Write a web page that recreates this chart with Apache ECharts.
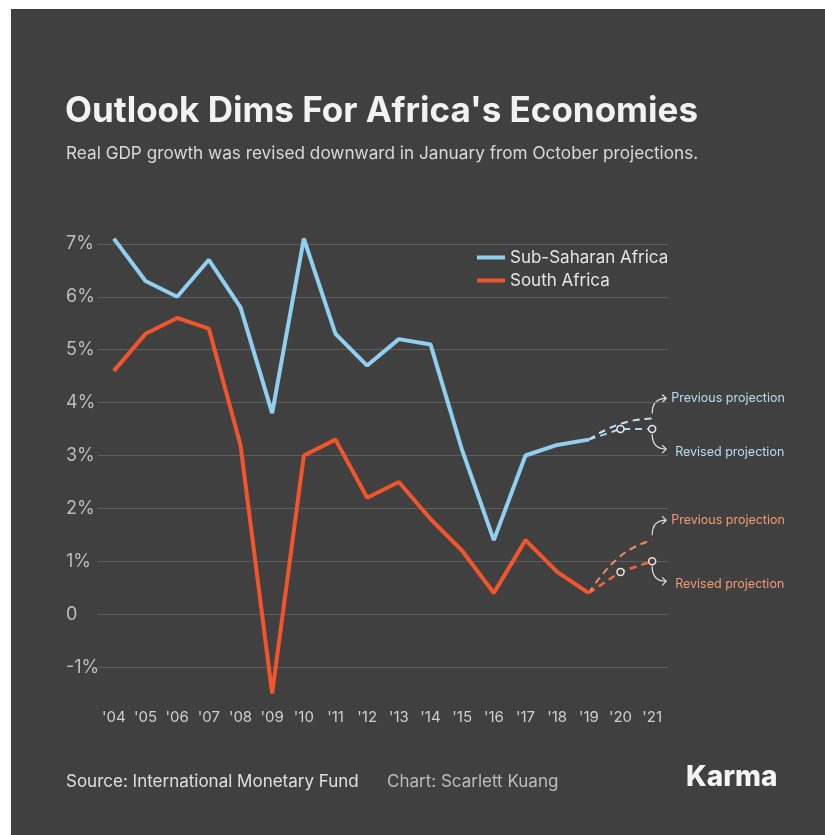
<!DOCTYPE html>
<html>
<head>
<meta charset="utf-8">
<style>
  html, body { margin: 0; padding: 0; background: #ffffff; }
  #main { width: 825px; height: 835px; }
</style>
<script src="https://cdn.jsdelivr.net/npm/echarts@6/dist/echarts.min.js"></script>
</head>
<body>
<div id="main"></div>
<script>
// years on the x axis
const years = ["'04","'05","'06","'07","'08","'09","'10","'11","'12","'13","'14","'15","'16","'17","'18","'19","'20","'21"];

// real GDP growth, %
const subSaharan = [7.1, 6.3, 6.0, 6.7, 5.8, 3.8, 7.1, 5.3, 4.7, 5.2, 5.1, 3.1, 1.4, 3.0, 3.2, 3.3, null, null];
const southAfrica = [4.6, 5.3, 5.6, 5.4, 3.2, -1.5, 3.0, 3.3, 2.2, 2.5, 1.8, 1.2, 0.4, 1.4, 0.8, 0.4, null, null];

// projections for '19 -> '21
const ssaPrevious = [3.3, 3.6, 3.7];
const ssaRevised = [3.3, 3.5, 3.5];
const saPrevious = [0.4, 1.1, 1.4];
const saRevised = [0.4, 0.8, 1.0];

const blue = '#8fd0f0';
const orange = '#f2552c';
const bg = '#404040';

function projData(vals) {
    // pad with nulls so projection starts at '19
    let out = years.map(() => null);
    vals.forEach((v, i) => {
        out[15 + i] = i === 0 ? {value: v, symbol: 'none'} : v;
    });
    return out;
}

let myChart = echarts.init(document.getElementById('main'));

let option = {
    backgroundColor: '#ffffff',
    animation: false,
    textStyle: {fontFamily: 'Inter'},
    graphic: [
        {type: 'rect', z: -10, shape: {x: 11, y: 9, width: 825, height: 835}, style: {fill: bg}},
        {type: 'text', left: 65, top: 94, style: {text: "Outlook Dims For Africa's Economies", fill: '#f2f2f2', font: '700 35px Inter'}},
        {type: 'text', left: 66, top: 145, style: {text: 'Real GDP growth was revised downward in January from October projections.', fill: '#d9d9d9', font: '400 17.2px Inter'}},
        {type: 'text', left: 66, top: 773, style: {text: 'Source: International Monetary Fund', fill: '#e0e0e0', font: '400 17px Inter'}},
        {type: 'text', left: 387, top: 773, style: {text: 'Chart: Scarlett Kuang', fill: '#bdbdbd', font: '400 17px Inter'}},
        {type: 'text', left: 686, top: 764, style: {text: 'Karma', fill: '#f5f5f5', font: '800 28px Inter'}}
    ],
    legend: {
        left: 472,
        top: 244,
        orient: 'vertical',
        itemGap: 6,
        itemWidth: 28,
        itemHeight: 4,
        icon: 'rect',
        data: ['Sub-Saharan Africa', 'South Africa'],
        textStyle: {color: '#e6e6e6', fontSize: 17, fontFamily: 'Inter'}
    },
    grid: {left: 98, right: 157, top: 191, bottom: 115},
    xAxis: {
        type: 'category',
        data: years,
        boundaryGap: true,
        axisLine: {show: false},
        axisTick: {show: false},
        axisLabel: {color: '#cfcfcf', fontSize: 15, margin: -10, fontFamily: 'Inter'}
    },
    yAxis: {
        type: 'value',
        min: -2,
        max: 8,
        interval: 1,
        axisLine: {show: false},
        axisTick: {show: false},
        axisLabel: {
            color: '#bdbdbd',
            fontSize: 18,
            align: 'left',
            margin: 32,
            fontFamily: 'Inter',
            formatter: v => (v === -2 || v === 8) ? '' : (v === 0 ? '0' : v + '%')
        },
        splitLine: {showMinLine: false, showMaxLine: false, lineStyle: {color: '#5e5e5e', width: 1}}
    },
    series: [
        {
            name: 'Sub-Saharan Africa', type: 'line', data: subSaharan, color: blue,
            symbol: 'none', lineStyle: {width: 4, color: blue}, clip: false, z: 5
        },
        {
            name: 'South Africa', type: 'line', data: southAfrica, color: orange,
            symbol: 'none', lineStyle: {width: 4, color: orange}, clip: false, z: 5
        },
        {
            name: 'ssaPrev', type: 'line', data: projData(ssaPrevious), smooth: 0.5,
            symbol: 'none', lineStyle: {width: 2, type: [7, 5], color: '#bfe3f5'}
        },
        {
            name: 'ssaRev', type: 'line', data: projData(ssaRevised),
            symbol: 'circle', symbolSize: 7, showSymbol: true,
            itemStyle: {color: bg, borderColor: '#e8e8e8', borderWidth: 1.5},
            lineStyle: {width: 2, type: [7, 5], color: '#a9d9f0'}
        },
        {
            name: 'saPrev', type: 'line', data: projData(saPrevious), smooth: 0.5,
            symbol: 'none', lineStyle: {width: 2, type: [7, 5], color: '#f08a66'}
        },
        {
            name: 'saRev', type: 'line', data: projData(saRevised),
            symbol: 'circle', symbolSize: 7, showSymbol: true,
            itemStyle: {color: bg, borderColor: '#f3e0d8', borderWidth: 1.5},
            lineStyle: {width: 2.5, type: [7, 5], color: '#f2663c'}
        }
    ]
};

myChart.setOption(option);

// annotation arrows placed from the '21 projection points
function arrow(x, y, dir, color) {
    // dir -1 = up, 1 = down
    let ex = x + 14, ey = y + dir * 15;
    return [
        {type: 'bezierCurve', shape: {x1: x, y1: y, cpx1: x, cpy1: ey, x2: ex, y2: ey},
         style: {stroke: color, lineWidth: 1.2, fill: null}},
        {type: 'polyline', shape: {points: [[ex - 4, ey - 4], [ex, ey], [ex - 4, ey + 4]]},
         style: {stroke: color, lineWidth: 1.2, fill: null}}
    ];
}

let extra = [];
[[ssaPrevious[2], ssaRevised[2], '#b6dff3'], [saPrevious[2], saRevised[2], '#f29a78']].forEach(([pv, rv, tc]) => {
    let p = myChart.convertToPixel({gridIndex: 0}, [17, pv]);
    let r = myChart.convertToPixel({gridIndex: 0}, [17, rv]);
    let top = Math.min(p[1], r[1]);
    let bot = Math.max(p[1], r[1]);
    extra.push(...arrow(p[0], top - 5, -1, '#e0e0e0'));
    extra.push(...arrow(p[0], bot + 5, 1, '#e0e0e0'));
    extra.push({type: 'text', x: p[0] + 19, y: top - 20, style: {text: 'Previous projection', fill: tc, font: '400 12.5px Inter', verticalAlign: 'middle'}});
    extra.push({type: 'text', x: p[0] + 23, y: bot + 23, style: {text: 'Revised projection', fill: tc, font: '400 12.5px Inter', verticalAlign: 'middle'}});
});

myChart.setOption({graphic: option.graphic.concat(extra)});
</script>
</body>
</html>
